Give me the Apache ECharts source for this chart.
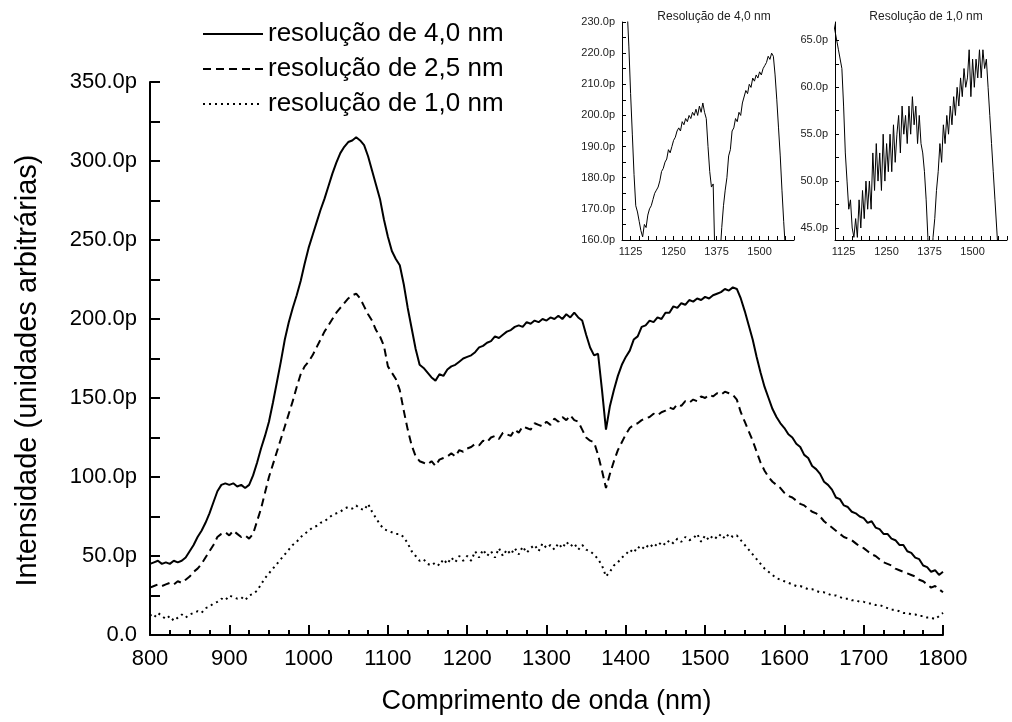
<!DOCTYPE html>
<html>
<head>
<meta charset="utf-8">
<script src="https://cdn.jsdelivr.net/npm/echarts@6/dist/echarts.min.js"></script>
<style>
html, body { margin: 0; padding: 0; background: #fff; }
#chart { width: 1012px; height: 722px; }
</style>
</head>
<body>
<div id="chart"></div>
<script>
// wavelength sampling of the spectra (nm)
const startNm = 800
const stepNm = 5

// intensities in pW (p), one value every 5 nm from 800 to 1800 nm
const res40 = [
  45,46,47,45,46,45,47,46,47,49, 53,57,62,66,71,77,84,91,95,96,
  95,96,94,95,93,95,101,109,118,126, 135,147,160,173,187,198,207,215,224,235,
  245,253,261,269,276,284,292,299,305,309, 312,313,315,313,310,303,294,285,276,263,
  252,243,238,234,222,207,194,181,171,169, 166,163,161,165,164,168,170,171,173,175,
  176,177,179,182,183,185,186,189,188,190, 192,193,195,196,195,198,197,199,198,200,
  199,201,200,202,200,203,201,204,201,199, 190,182,177,178,155,130,145,155,164,171,
  176,180,187,189,195,196,199,198,201,200, 204,204,208,207,210,209,212,211,213,212,
  214,213,215,216,217,219,218,220,219,213, 205,196,187,176,166,157,150,143,138,134,
  131,127,125,121,119,114,112,107,105,102, 97,95,92,87,86,82,81,78,77,75,
  74,71,72,68,67,64,64,61,60,57, 57,53,52,49,48,44,43,40,41,38,
  40
]
const res25 = [
  30,31,32,31,32,33,32,34,33,35, 37,40,42,45,49,53,57,62,64,65,
  63,66,64,62,63,61,64,72,80,90, 100,108,116,124,132,140,148,157,165,170,
  173,177,182,187,192,196,200,204,207,210, 213,215,216,213,208,203,199,193,189,183,
  170,166,162,155,142,130,120,113,110,109, 108,110,107,111,112,113,115,113,117,116,
  118,119,121,120,123,122,125,126,124,128, 127,126,130,128,132,131,130,134,133,132,
  135,133,137,135,138,136,139,136,135,130, 125,123,122,114,104,93,102,110,117,122,
  127,131,133,134,136,137,138,140,139,141, 142,144,143,146,145,148,147,149,148,151,
  150,152,151,153,152,154,153,152,149,141, 135,129,123,116,109,104,100,97,95,93,
  90,88,87,85,83,82,80,78,77,75, 72,70,68,66,64,62,61,60,58,56,
  55,53,51,50,48,46,45,44,42,41, 40,39,38,37,35,34,32,30,31,29,
  27
]
const res10 = [
  13,11,14,12,10,12,9,11,13,11, 13,14,15,14,17,18,20,21,23,22,
  25,24,23,24,22,25,26,28,32,36, 39,42,45,48,51,54,57,59,62,64,
  66,68,69,71,72,74,76,77,78,80, 81,80,82,80,79,83,78,74,70,67,
  66,65,64,64,62,58,53,50,47,48, 45,44,46,44,48,45,49,46,50,47,
  50,47,53,49,54,50,53,49,55,50, 54,51,55,51,56,52,55,57,53,58,
  55,57,54,58,55,59,56,58,54,57, 54,53,51,48,44,37,40,44,46,49,
  51,54,52,56,54,57,55,58,56,59, 57,60,58,61,59,62,60,61,64,59,
  63,60,63,61,64,61,64,62,63,60, 57,54,51,48,45,42,40,38,36,35,
  34,33,32,31,31,30,29,29,28,27, 27,26,25,25,24,23,23,22,22,21,
  21,20,20,19,19,18,17,16,16,15, 14,14,13,13,12,12,11,11,10,12,
  14
]

const seriesNames = ['resolução de 4,0 nm', 'resolução de 2,5 nm', 'resolução de 1,0 nm']
const insetTitles = ['Resolução de 4,0 nm', 'Resolução de 1,0 nm']
const insetXLabels = [1125, 1250, 1375, 1500]
const inset2YLabels = [45, 50, 55, 60, 65]
const inset2YTicks = [45, 47.5, 50, 52.5, 55, 57.5, 60, 62.5, 65]

const font = 'Liberation Sans, Arial, sans-serif'
const toPairs = arr => arr.map((v, i) => [startNm + i * stepNm, v])
const pLabel = v => v === 0 ? '0.0' : v.toFixed(1) + 'p'
const nmLabel = v => String(v)

const mainAxisLine = { lineStyle: { color: '#000', width: 2 } }
const insetAxisLine = { lineStyle: { color: '#000', width: 1 } }
const insetLabel = { fontSize: 11, color: '#222', fontFamily: font }

const options = {
  animation: false,
  backgroundColor: '#fff',
  grid: [
    { left: 150, top: 82, width: 793, height: 553, outerBoundsMode: 'none' },
    { left: 622, top: 22, width: 172, height: 218, outerBoundsMode: 'none' },
    { left: 835, top: 22, width: 172, height: 218, outerBoundsMode: 'none' }
  ],
  legend: {
    data: seriesNames,
    orient: 'vertical',
    left: 202,
    top: 21,
    padding: 0,
    itemWidth: 60,
    itemHeight: 14,
    itemGap: 9,
    itemStyle: { opacity: 0 },
    textStyle: { fontSize: 26, lineHeight: 26, color: '#000', fontFamily: font }
  },
  graphic: [
    { type: 'text', x: 714, y: 17, style: { text: insetTitles[0], fontSize: 12, fontFamily: font, fill: '#222', align: 'center', verticalAlign: 'middle' } },
    { type: 'text', x: 926, y: 17, style: { text: insetTitles[1], fontSize: 12, fontFamily: font, fill: '#222', align: 'center', verticalAlign: 'middle' } }
  ],
  xAxis: [
    {
      gridIndex: 0, type: 'value', min: 800, max: 1800, interval: 100,
      name: 'Comprimento de onda (nm)', nameLocation: 'middle', nameGap: 53,
      nameTextStyle: { fontSize: 27, color: '#000', fontFamily: font },
      axisLine: mainAxisLine,
      axisTick: { inside: true, length: 10, lineStyle: { color: '#000', width: 2 } },
      minorTick: { show: true, splitNumber: 4, length: 5, lineStyle: { color: '#000', width: 2 } },
      splitLine: { show: false },
      axisLabel: { fontSize: 22, color: '#000', fontFamily: font, margin: 13, formatter: nmLabel }
    },
    {
      gridIndex: 1, type: 'value', min: 1100, max: 1600, interval: 25,
      axisLine: insetAxisLine,
      axisTick: { inside: true, length: 4, lineStyle: { color: '#000', width: 1 } },
      splitLine: { show: false },
      axisLabel: Object.assign({ margin: 6, customValues: insetXLabels, formatter: nmLabel }, insetLabel)
    },
    {
      gridIndex: 2, type: 'value', min: 1100, max: 1600, interval: 25,
      axisLine: insetAxisLine,
      axisTick: { inside: true, length: 4, lineStyle: { color: '#000', width: 1 } },
      splitLine: { show: false },
      axisLabel: Object.assign({ margin: 6, customValues: insetXLabels, formatter: nmLabel }, insetLabel)
    }
  ],
  yAxis: [
    {
      gridIndex: 0, type: 'value', min: 0, max: 350, interval: 50,
      name: 'Intensidade (unidades arbitrárias)', nameLocation: 'middle', nameGap: 108, nameRotate: 90,
      nameTextStyle: { fontSize: 29, color: '#000', fontFamily: font, padding: [0, 24, 0, 0] },
      axisLine: Object.assign({ show: true }, mainAxisLine),
      axisTick: { show: true, inside: true, length: 10, lineStyle: { color: '#000', width: 2 } },
      minorTick: { show: true, splitNumber: 2, length: 10, lineStyle: { color: '#000', width: 2 } },
      splitLine: { show: false },
      axisLabel: { fontSize: 22, color: '#000', fontFamily: font, margin: 13, formatter: pLabel }
    },
    {
      gridIndex: 1, type: 'value', min: 160, max: 230, interval: 10,
      axisLine: Object.assign({ show: true }, insetAxisLine),
      axisTick: { show: true, inside: true, length: 4, lineStyle: { color: '#000', width: 1 } },
      minorTick: { show: true, splitNumber: 2, length: 4, lineStyle: { color: '#000', width: 1 } },
      splitLine: { show: false },
      axisLabel: Object.assign({ margin: 7, formatter: pLabel }, insetLabel)
    },
    {
      gridIndex: 2, type: 'value', min: 43.72, max: 66.96,
      axisLine: Object.assign({ show: true }, insetAxisLine),
      axisTick: { show: true, inside: true, length: 4, customValues: inset2YTicks, lineStyle: { color: '#000', width: 1 } },
      splitLine: { show: false },
      axisLabel: Object.assign({ margin: 7, customValues: inset2YLabels, formatter: pLabel }, insetLabel)
    }
  ],
  series: [
    {
      name: seriesNames[0], type: 'line', xAxisIndex: 0, yAxisIndex: 0, symbol: 'none',
      itemStyle: { color: '#000' },
      lineStyle: { color: '#000', width: 2, type: 'solid' },
      data: toPairs(res40)
    },
    {
      name: seriesNames[1], type: 'line', xAxisIndex: 0, yAxisIndex: 0, symbol: 'none',
      itemStyle: { color: '#000' },
      lineStyle: { color: '#000', width: 2, type: [8, 5] },
      data: toPairs(res25)
    },
    {
      name: seriesNames[2], type: 'line', xAxisIndex: 0, yAxisIndex: 0, symbol: 'none',
      itemStyle: { color: '#000' },
      lineStyle: { color: '#000', width: 2, type: [2, 4] },
      data: toPairs(res10)
    },
    {
      name: 'inset 4,0', type: 'line', xAxisIndex: 1, yAxisIndex: 1, symbol: 'none',
      lineStyle: { color: '#000', width: 1 },
      data: toPairs(res40)
    },
    {
      name: 'inset 1,0', type: 'line', xAxisIndex: 2, yAxisIndex: 2, symbol: 'none',
      lineStyle: { color: '#000', width: 1 },
      data: toPairs(res10)
    }
  ]
}

const ChartEl = echarts.init(document.getElementById('chart'))
ChartEl.setOption(options)
</script>
</body>
</html>
